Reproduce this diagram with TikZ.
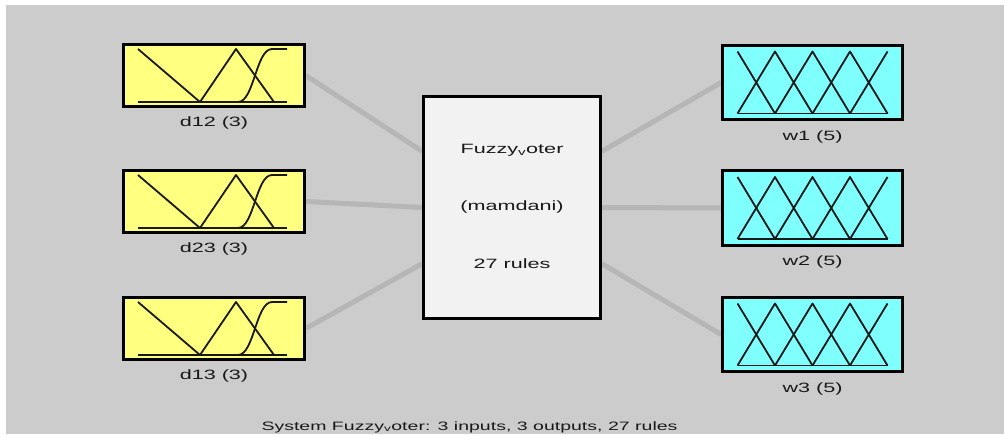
\documentclass[tikz,border=0pt]{standalone}
\usepackage{fontspec}
\newfontfamily\matfont[FakeStretch=1.6]{Liberation Sans}
\usetikzlibrary{positioning,calc,backgrounds}
\definecolor{FisBack}{RGB}{204,204,204}
\definecolor{FisYellow}{RGB}{255,255,128}
\definecolor{FisCyan}{RGB}{128,255,255}
\definecolor{FisCore}{RGB}{242,242,242}
\definecolor{FisWire}{RGB}{182,182,182}
\definecolor{FisInk}{RGB}{25,25,25}
\tikzset{
  fis box/.style={draw=black, line width=2.6pt, inner sep=0pt},
  fis input/.style={fis box, fill=FisYellow, minimum width=181pt, minimum height=62pt},
  fis output/.style={fis box, fill=FisCyan, minimum width=180pt, minimum height=74.5pt},
  fis core/.style={fis box, fill=FisCore, minimum width=177pt, minimum height=222pt},
  fis label/.style={font=\fontsize{13.5}{16}\selectfont\matfont, text=FisInk, inner sep=0pt},
  fis title/.style={fis label, font=\fontsize{12.2}{15}\selectfont\matfont},
  fis wire/.style={FisWire, line width=5pt},
  fis mf/.style={black!90, line width=1.8pt, line join=round}
}
\newcommand{\inputmfs}[1]{%
  \begin{scope}[shift={(#1.center)}]
    \draw[fis mf] (-76,26.5) -- (73,26.5);
    \draw[fis mf] (-76,-26.5) -- (-14,26.5);
    \draw[fis mf] (-14,26.5) -- (22,-26.5) -- (60,26.5);
    \draw[fis mf] (24,26.5) .. controls (40,26.5) and (42,-26.5) .. (58,-26.5) -- (73,-26.5);
  \end{scope}}
\newcommand{\outputmfs}[1]{%
  \begin{scope}[shift={(#1.center)}]
    \draw[fis mf] (-75,31) -- (75,31);
    \draw[fis mf] (-75,-31) -- (-37.5,31);
    \foreach \p in {-37.5,0,37.5}
      \draw[fis mf] (\p-37.5,31) -- (\p,-31) -- (\p+37.5,31);
    \draw[fis mf] (37.5,31) -- (75,-31);
  \end{scope}}

\begin{document}
\begin{tikzpicture}[x=1pt, y=-1pt]
\useasboundingbox (0,0) rectangle (1004,434);
\begin{scope}[on background layer]
\fill[white] (0,0) rectangle (1004,434);
\fill[FisBack] (6,5) rectangle (1004,434);
\end{scope}
\node[fis input] (d12) at (214,75.5) {};
\node[fis input] (d23) at (214,201.5) {};
\node[fis input] (d13) at (214,328.5) {};
\node[fis core] (fis) at (512,207.5) {};
\node[fis output] (w1) at (812.5,82.5) {};
\node[fis output] (w2) at (812.5,208) {};
\node[fis output] (w3) at (812.5,334.5) {};
\inputmfs{d12}
\inputmfs{d23}
\inputmfs{d13}
\outputmfs{w1}
\outputmfs{w2}
\outputmfs{w3}
\node[fis label, below=9pt of d12] (d12lab) {d12 (3)};
\node[fis label, below=9pt of d23] (d23lab) {d23 (3)};
\node[fis label, below=9pt of d13] (d13lab) {d13 (3)};
\node[fis label, below=9pt of w1] (w1lab) {w1 (5)};
\node[fis label, below=9pt of w2] (w2lab) {w2 (5)};
\node[fis label, below=9pt of w3] (w3lab) {w3 (5)};
\node[fis label] (fisname) at ($(fis.center)+(0,-57)$) {Fuzzy\textsubscript{v}oter};
\node[fis label] (fistype) at (fis.center) {(mamdani)};
\node[fis label] (fisrules) at ($(fis.center)+(0,56)$) {27 rules};
\node[fis title] (sys) at (469.5,427) {System Fuzzy\textsubscript{v}oter: 3 inputs, 3 outputs, 27 rules};
\begin{scope}[on background layer]
\draw[fis wire] (d12.east) -- ($(fis.north west)!0.25!(fis.south west)$);
\draw[fis wire] (d23.east) -- (fis.west);
\draw[fis wire] (d13.east) -- ($(fis.north west)!0.75!(fis.south west)$);
\draw[fis wire] ($(fis.north east)!0.25!(fis.south east)$) -- (w1.west);
\draw[fis wire] (fis.east) -- (w2.west);
\draw[fis wire] ($(fis.north east)!0.75!(fis.south east)$) -- (w3.west);
\end{scope}
\end{tikzpicture}
\end{document}
